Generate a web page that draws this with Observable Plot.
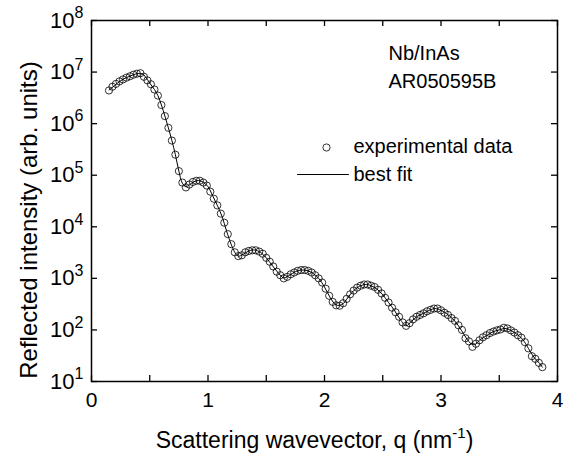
<!DOCTYPE html>
<html><head><meta charset="utf-8">
<script src="https://cdn.jsdelivr.net/npm/d3@7"></script>
<script src="https://cdn.jsdelivr.net/npm/@observablehq/plot@0.6"></script>
<style>
body{margin:0;background:#fff;}
#chart svg{font-family:"Liberation Sans",Arial,Helvetica,sans-serif;background:#fff;}
</style></head><body><div id="chart"></div>
<script>
// experimental data: scattering wavevector q (nm^-1) and reflected intensity (arb. units)
const expQ = [0.15,0.18,0.21,0.24,0.27,0.30,0.33,0.36,0.39,0.42,0.45,0.48,0.51,0.54,0.57,0.60,0.63,0.66,0.69,0.72,0.75,0.78,0.81,0.84,0.87,0.90,0.93,0.96,0.99,1.02,1.05,1.08,1.11,1.14,1.17,1.20,1.23,1.26,1.29,1.32,1.35,1.38,1.41,1.44,1.47,1.50,1.53,1.56,1.59,1.62,1.65,1.68,1.71,1.74,1.77,1.80,1.83,1.86,1.89,1.92,1.95,1.98,2.01,2.04,2.07,2.10,2.13,2.16,2.19,2.22,2.25,2.28,2.31,2.34,2.37,2.40,2.43,2.46,2.49,2.52,2.55,2.58,2.61,2.64,2.67,2.70,2.73,2.76,2.79,2.82,2.85,2.88,2.91,2.94,2.97,3.00,3.03,3.06,3.09,3.12,3.15,3.18,3.21,3.24,3.27,3.30,3.33,3.36,3.39,3.42,3.45,3.48,3.51,3.54,3.57,3.60,3.63,3.66,3.69,3.72,3.75,3.78,3.81,3.84,3.87];
const expI = [4.4e6,5.2e6,5.9e6,6.6e6,7.2e6,7.8e6,8.3e6,8.9e6,9.3e6,9.5e6,8.1e6,6.9e6,5.8e6,4.6e6,3.5e6,2.3e6,1.4e6,8.3e5,4.7e5,2.5e5,1.2e5,7.2e4,5.8e4,6.6e4,7.4e4,7.8e4,7.8e4,7.2e4,6.3e4,4.8e4,3.5e4,2.6e4,1.8e4,1.2e4,7.2e3,4.6e3,3.2e3,2.7e3,2.8e3,3.2e3,3.4e3,3.5e3,3.5e3,3.3e3,3.0e3,2.5e3,2.1e3,1.7e3,1.35e3,1.15e3,1.0e3,1.07e3,1.2e3,1.3e3,1.4e3,1.45e3,1.45e3,1.4e3,1.3e3,1.15e3,1.0e3,8.3e2,6.3e2,4.6e2,3.5e2,3.0e2,2.95e2,3.3e2,4.0e2,4.9e2,5.8e2,6.6e2,7.2e2,7.6e2,7.6e2,7.2e2,6.8e2,6.0e2,5.1e2,4.2e2,3.4e2,2.7e2,2.2e2,1.8e2,1.4e2,1.2e2,1.35e2,1.6e2,1.8e2,1.95e2,2.1e2,2.3e2,2.45e2,2.6e2,2.6e2,2.4e2,2.15e2,1.95e2,1.7e2,1.5e2,1.23e2,1.0e2,6.9e1,6.0e1,4.7e1,5.4e1,6.3e1,7.2e1,7.9e1,8.7e1,9.3e1,9.8e1,1.02e2,1.1e2,1.07e2,9.8e1,8.9e1,7.9e1,7.1e1,5.8e1,4.4e1,3.1e1,2.75e1,2.3e1,1.9e1];
// best fit curve
const fitQ = [0.15,0.20,0.25,0.30,0.35,0.40,0.43,0.46,0.50,0.54,0.57,0.60,0.63,0.66,0.69,0.72,0.75,0.78,0.81,0.84,0.88,0.92,0.96,1.00,1.04,1.08,1.12,1.16,1.20,1.23,1.26,1.30,1.35,1.40,1.45,1.50,1.55,1.60,1.65,1.70,1.75,1.80,1.85,1.90,1.95,2.00,2.05,2.10,2.15,2.20,2.25,2.30,2.35,2.40,2.45,2.50,2.55,2.60,2.65,2.70,2.75,2.80,2.85,2.90,2.95,3.00,3.05,3.10,3.15,3.20,3.25,3.29,3.33,3.40,3.45,3.50,3.55,3.60,3.65,3.70,3.75,3.80,3.85,3.87];
const fitI = [4.5e6,5.5e6,6.8e6,7.8e6,8.7e6,9.4e6,9.3e6,8.3e6,6.1e6,4.6e6,3.5e6,2.3e6,1.4e6,8.3e5,4.7e5,2.5e5,1.2e5,7.0e4,6.0e4,6.5e4,7.5e4,7.9e4,7.3e4,6.0e4,4.0e4,2.6e4,1.6e4,8.2e3,4.5e3,3.2e3,2.7e3,2.9e3,3.4e3,3.55e3,3.2e3,2.5e3,1.8e3,1.3e3,1.02e3,1.15e3,1.35e3,1.45e3,1.42e3,1.25e3,1.0e3,6.8e2,4.2e2,3.05e2,3.1e2,4.2e2,5.8e2,7.0e2,7.6e2,7.2e2,6.2e2,4.8e2,3.4e2,2.4e2,1.6e2,1.2e2,1.5e2,1.85e2,2.1e2,2.4e2,2.6e2,2.4e2,2.05e2,1.65e2,1.2e2,8.0e1,5.6e1,5.2e1,6.3e1,8.0e1,9.3e1,1.0e2,1.07e2,9.8e1,8.3e1,6.6e1,4.4e1,2.9e1,2.2e1,1.9e1];
const xTicks = [0,0.5,1,1.5,2,2.5,3,3.5,4];
const yTicks = [1e1,1e2,1e3,1e4,1e5,1e6,1e7,1e8];
const sampleLabel = ["Nb/InAs","AR050595B"];
const legendLabels = ["experimental data","best fit"];
const xTitle = "Scattering wavevector, q (nm^-1)";
const yTitle = "Reflected intensity (arb. units)";

const expData = expQ.map((q,i)=>({q, I: expI[i]}));
const fitData = fitQ.map((q,i)=>({q, I: fitI[i]}));
const lineShape = {draw(ctx, l){ ctx.moveTo(0,0); ctx.lineTo(0,-l); }};
const tickLen = 6;
const plotW = 569 - 91 - 12, plotH = 459 - 20 - 78;

const chart = Plot.plot({
  width: 569, height: 459,
  marginLeft: 91, marginRight: 12, marginTop: 20, marginBottom: 78,
  style: {fontFamily: '"Liberation Sans",Arial,sans-serif', color: "black", background: "white"},
  x: {domain: [0,4], axis: null},
  y: {type: "log", domain: [1e1,1e8], axis: null},
  marks: [
    Plot.line(fitData, {x:"q", y:"I", curve:"catmull-rom", stroke:"black", strokeWidth:1}),
    Plot.dot(expData, {x:"q", y:"I", r:3.6, stroke:"black", strokeWidth:0.8, fill:"none"}),
    // inward ticks on all four sides
    Plot.tickX(xTicks, {x: d=>d, insetTop: plotH - tickLen, stroke:"black", strokeWidth:1.3}),
    Plot.tickX(xTicks, {x: d=>d, insetBottom: plotH - tickLen, stroke:"black", strokeWidth:1.3}),
    Plot.tickY(yTicks, {y: d=>d, insetRight: plotW - tickLen, stroke:"black", strokeWidth:1.3}),
    Plot.tickY(yTicks, {y: d=>d, insetLeft: plotW - tickLen, stroke:"black", strokeWidth:1.3}),
    Plot.frame({stroke:"black", strokeWidth:1.5}),
    Plot.axisX(xTicks.filter(Number.isInteger), {anchor:"bottom", tickSize:0, tickPadding:11, label:null, fontSize:21,
      tickFormat: d => String(d)}),
    Plot.axisY(yTicks, {anchor:"left", tickSize:0, tickPadding:8, label:null, fontSize:22,
      tickFormat: d => "10^" + Math.round(Math.log10(d))}),
    Plot.text([xTitle], {text: d=>d, frameAnchor:"bottom", dx:-10, dy:66, textAnchor:"middle", lineAnchor:"bottom", fontSize:23, fill:"black"}),
    Plot.text([yTitle], {text: d=>d, frameAnchor:"left", dx:-62, dy:19, rotate:-90, textAnchor:"middle", lineAnchor:"middle", fontSize:24, fill:"black"}),
    Plot.text([sampleLabel.join("\n")], {text: d=>d, frameAnchor:"top-left", dx:297, dy:67, textAnchor:"start", lineAnchor:"bottom", lineHeight:1.4, fontSize:20, fill:"black"}),
    Plot.dot(legendLabels.slice(0,1), {frameAnchor:"top-left", dx:235, dy:127, r:3.6, stroke:"black", strokeWidth:0.8, fill:"none"}),
    Plot.text(legendLabels.slice(0,1), {text: d=>d, frameAnchor:"top-left", dx:262, dy:126, textAnchor:"start", lineAnchor:"middle", fontSize:20, fill:"black"}),
    Plot.vector(legendLabels.slice(1,2), {frameAnchor:"top-left", dx:206, dy:154, rotate:90, length:51, anchor:"start", shape: lineShape, stroke:"black", strokeWidth:1}),
    Plot.text(legendLabels.slice(1,2), {text: d=>d, frameAnchor:"top-left", dx:262, dy:154, textAnchor:"start", lineAnchor:"middle", fontSize:20, fill:"black"})
  ]
});
document.getElementById("chart").appendChild(chart);

// superscripts
const NS = "http://www.w3.org/2000/svg";
function superscript(textEl, base, sup, after, supSize, baseSize) {
  while (textEl.firstChild) textEl.removeChild(textEl.firstChild);
  textEl.appendChild(document.createTextNode(base));
  const s = document.createElementNS(NS, "tspan");
  s.setAttribute("dy", (-0.42 * baseSize) + "px");
  s.setAttribute("font-size", supSize);
  s.textContent = sup;
  textEl.appendChild(s);
  if (after) {
    const a = document.createElementNS(NS, "tspan");
    a.setAttribute("dy", (0.42 * baseSize) + "px");
    a.setAttribute("font-size", baseSize);
    a.textContent = after;
    textEl.appendChild(a);
  }
}
chart.querySelectorAll("text").forEach(t => {
  if (t.querySelector("tspan")) return;
  const s = t.textContent;
  const m = s.match(/^10\^(\d+)$/);
  if (m) { superscript(t, "10", m[1], null, 16, 22); return; }
  const i = s.indexOf("^-1");
  if (i >= 0) superscript(t, s.slice(0, i), "-1", s.slice(i + 3), 15, 23);
});
</script></body></html>
